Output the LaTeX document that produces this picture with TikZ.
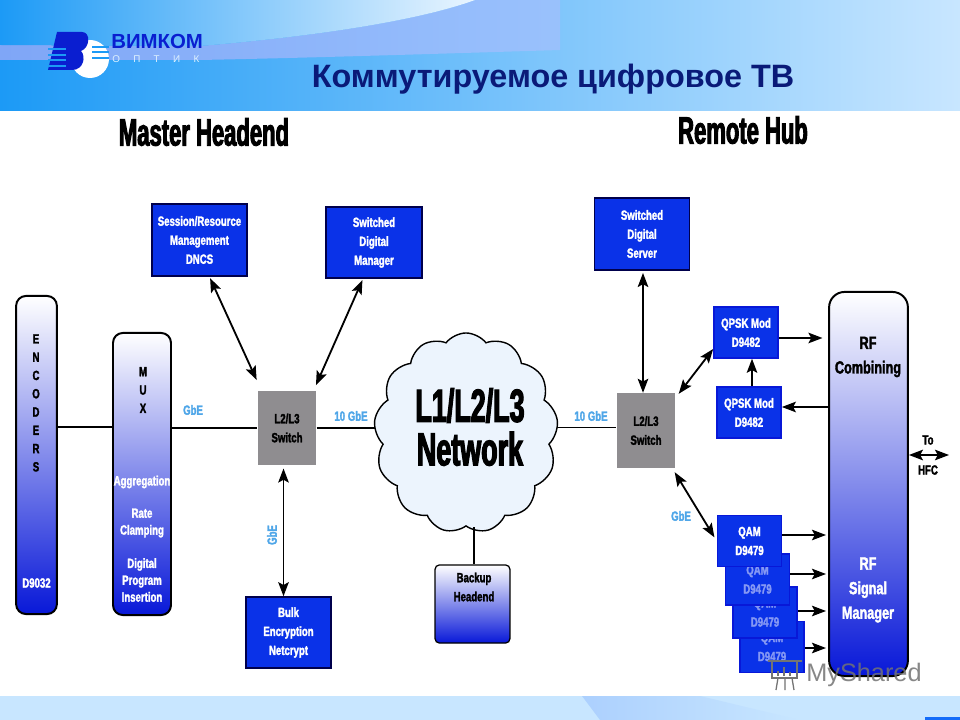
\documentclass[tikz,border=0pt]{standalone}
\usepackage{fontspec}
\setmainfont{Liberation Sans}
\newfontfamily\narrowfont[FakeStretch=0.72,BoldFeatures={FakeBold=2}]{Liberation Sans}
\newfontfamily\tallfont[FakeStretch=0.58,BoldFeatures={FakeBold=2.5}]{Liberation Sans}
\newcommand{\boxfont}{\narrowfont\bfseries\fontsize{9.5}{13.5}\selectfont}
\usepackage{tikz}
\usetikzlibrary{arrows.meta, shapes.symbols}
\definecolor{hdrdark}{HTML}{1C9AF6}
\definecolor{hdrmid}{HTML}{90BAFC}
\definecolor{hdrpale}{HTML}{C8E6FF}
\definecolor{hdrband}{HTML}{7FA6F7}
\definecolor{boxblue}{HTML}{0A32E8}
\definecolor{boxdeep}{HTML}{0818D8}
\definecolor{labelblue}{HTML}{4FA6E8}
\definecolor{titleblue}{HTML}{0A1A78}
\definecolor{logoblue}{HTML}{0A1ED0}
\definecolor{swgray}{HTML}{8F8D90}
\definecolor{cloudfill}{HTML}{ECF4FD}
\begin{document}
\begin{tikzpicture}[
        x=0.025cm,
        y=-0.025cm,
        >={Stealth[length=10pt,width=7.5pt,inset=2pt]},
        link/.style={line width=1.3pt},
        duplex/.style={line width=1.3pt,<->},
        oneway/.style={line width=1.3pt,->},
        bluebox/.style={
            draw=black!70!blue,
            line width=1.2pt,
            fill=boxblue,
            text=white,
            align=center,
            inner sep=0pt,
            font=\boxfont
        },
        modbox/.style={bluebox, draw=boxdeep, minimum width=1.6cm, minimum height=1.27cm},
        fadedbox/.style={modbox, text=white!50!boxblue},
        gradbar/.style={
            draw=black,
            line width=1.4pt,
            rounded corners=7pt,
            top color=white,
            bottom color=boxdeep,
            inner sep=0pt
        },
        switchbox/.style={
            fill=swgray,
            align=center,
            inner sep=0pt,
            minimum width=1.47cm,
            minimum height=1.87cm,
            font=\boxfont
        },
        speed/.style={text=labelblue, font=\boxfont, inner sep=0pt},
        heading/.style={font=\tallfont\bfseries\fontsize{27}{30}\selectfont, inner sep=0pt},
        barlabel/.style={text=white, align=center, font=\narrowfont\bfseries\fontsize{9.5}{12}\selectfont, inner sep=0pt},
        darklabel/.style={barlabel, text=black},
        rflabel/.style={align=center, font=\narrowfont\bfseries\fontsize{12.5}{17.5}\selectfont, inner sep=0pt}
    ]
        \useasboundingbox (0,0) rectangle (960,720);

        % Slide background
        \fill[white] (0,0) rectangle (960,720);
        \shade[left color=hdrdark, middle color=hdrmid, right color=hdrpale] (0,0) rectangle (960,111);
        \shade[left color=hdrband, right color=hdrmid!83!hdrpale] (0,45) -- (200,46) .. controls (320,36) and (420,20) .. (475,0) -- (560,0) -- (560,50) .. controls (400,55) and (300,58) .. (200,60) -- (0,60) -- cycle;
        \shade[left color=hdrdark, right color=white!60!hdrpale] (0,0) -- (475,0) .. controls (420,20) and (320,36) .. (200,46) -- (0,45) -- cycle;
        \fill[hdrpale] (0,696) rectangle (960,720);
        \shade[left color=hdrmid!50!hdrpale, right color=hdrpale] (582,696) -- (600,720) -- (800,720) -- (700,696) -- cycle;
        \fill[hdrdark!70!blue] (925,717) rectangle (960,720);

        % Logo
        \fill[white] (90,59) circle (19);
        \fill[logoblue] (57,32) -- (82,32) .. controls (91,32) and (90,48) .. (81,51) .. controls (86,56) and (84,70) .. (72,70) -- (48,70) -- cycle;
        \foreach \yy in {49,55,60,66} {
            \draw[hdrdark, line width=0.8pt] (48,\yy) -- (66,\yy);
        }
        \foreach \yy in {47,52,58} {
            \draw[hdrdark, line width=0.8pt] (92,\yy) -- (109,\yy);
        }
        \node[inner sep=0pt, anchor=west, text=logoblue, font=\bfseries\fontsize{14.5}{16}\selectfont] (logotext) at (111,41) {ВИМКОМ};
        \node[inner sep=0pt, anchor=west, text=white!85!hdrdark, font=\scriptsize] (logosub) at (112,59) {О\hspace{9.5pt}П\hspace{9.5pt}Т\hspace{9.5pt}И\hspace{9.5pt}К};
        \node[inner sep=0pt, text=titleblue, font=\bfseries\fontsize{23}{24}\selectfont] (title) at (553,79) {Коммутируемое цифровое ТВ};

        % Section headings
        \node[heading] (master) at (204,132) {Master Headend};
        \node[heading] (remote) at (743,130) {Remote Hub};

        % Master headend boxes
        \node[gradbar, minimum width=1.02cm, minimum height=7.95cm] (encoders) at (36.5,455) {};
        \node[darklabel, anchor=north, font=\narrowfont\bfseries\fontsize{9.5}{13}\selectfont] (encname) at (36,334) {E\\N\\C\\O\\D\\E\\R\\S};
        \node[barlabel] (encmodel) at (36.5,583) {D9032};
        \node[gradbar, minimum width=1.45cm, minimum height=7.05cm] (mux) at (142,474) {};
        \node[darklabel, font=\narrowfont\bfseries\fontsize{9.5}{13}\selectfont] (muxname) at (143,390) {M\\U\\X};
        \node[barlabel] (muxtext) at (142,482) {Aggregation};
        \node[barlabel] (muxrate) at (142,523) {Rate\\Clamping};
        \node[barlabel] (muxprog) at (142,580) {Digital\\Program\\Insertion};
        \node[switchbox] (sw1) at (287,428) {L2/L3\\Switch};
        \node[bluebox, minimum width=2.37cm, minimum height=1.8cm] (dncs) at (199.5,240) {Session/Resource\\Management\\DNCS};
        \node[bluebox, minimum width=2.4cm, minimum height=1.77cm] (sdm) at (374,242.5) {Switched\\Digital\\Manager};
        \node[bluebox, minimum width=2.12cm, minimum height=1.77cm] (bulk) at (288.5,632.5) {Bulk\\Encryption\\Netcrypt};

        % Core network
        \node[cloud, draw=black, line width=1pt, fill=cloudfill, cloud puffs=13, cloud puff arc=105, cloud ignores aspect,
            minimum width=4.6cm, minimum height=5cm, inner sep=0pt] (net) at (466,433) {};
        \node[inner sep=0pt, align=center, font=\tallfont\bfseries\fontsize{33}{31}\selectfont] (nettext) at (470,427) {L1/L2/L3\\Network};
        \node[gradbar, line width=0.9pt, rounded corners=3pt, minimum width=1.87cm, minimum height=1.95cm] (backup) at (472.5,604) {};
        \node[darklabel, font=\boxfont] (backuptext) at (474,587) {Backup\\Headend};

        % Remote hub boxes
        \node[switchbox] (sw2) at (646,430.5) {L2/L3\\Switch};
        \node[bluebox, minimum width=2.37cm, minimum height=1.8cm] (sds) at (642,234) {Switched\\Digital\\Server};
        \node[modbox] (qpsk1) at (746,332.5) {QPSK Mod\\D9482};
        \node[modbox] (qpsk2) at (749,412.5) {QPSK Mod\\D9482};
        \node[fadedbox] (qam4) at (772,647) {QAM\\D9479};
        \node[fadedbox] (qam3) at (765,612.5) {QAM\\D9479};
        \node[fadedbox] (qam2) at (757.5,579.5) {QAM\\D9479};
        \node[modbox] (qam1) at (749.5,541) {QAM\\D9479};
        \node[gradbar, rounded corners=11pt, minimum width=1.97cm, minimum height=9.6cm] (rf) at (868.5,484) {};
        \node[rflabel] (rfcomb) at (868,357) {RF\\Combining};
        \node[rflabel, text=white] (rfsig) at (868,590) {RF\\Signal\\Manager};

        % Line rate labels
        \node[speed] (gbe1) at (193,410) {GbE};
        \node[speed] (tengbe1) at (351,416) {10 GbE};
        \node[speed] (tengbe2) at (591,416) {10 GbE};
        \node[speed, rotate=90] (gbe2) at (272,535) {GbE};
        \node[speed] (gbe3) at (681,516) {GbE};

        % Links
        \draw[link] (encoders.east |- mux) ++(0,-47) coordinate (busa) -- (mux.west |- busa);
        \draw[link] (mux.east |- sw1) -- (sw1.west);
        \draw[link] (sw1.east) -- (net.west |- sw1);
        \draw[link] (net.east |- sw2) ++(0,-3) coordinate (busb) -- (sw2.west |- busb);
        \draw[link] (backup.north) ++(1.5,0) coordinate (backa) -- (backa |- net.south);

        % Arrows
        \draw[duplex, shorten <=1pt, shorten >=8pt] (dncs.south) ++(10,0) coordinate (dncsa) (sw1.north west) ++(4,0) coordinate (swtl) (dncsa) -- (swtl);
        \draw[duplex, shorten <=1pt, shorten >=4pt] (sdm.south) ++(-11,0) coordinate (sdma) (sw1.north east) ++(-3,0) coordinate (swtr) (sdma) -- (swtr);
        \draw[duplex, shorten <=2pt] (sw1.south) ++(-3.5,0) coordinate (swb) (swb) -- (swb |- bulk.north);
        \draw[duplex, shorten <=1.5pt] (sds.south) ++(1,0) coordinate (sdsa) (sdsa) -- (sdsa |- sw2.north);
        \draw[duplex] (sw2.north east) ++(3,1) coordinate (swq) (swq) -- (qpsk1.west |- 713,349);
        \draw[duplex, shorten >=3pt] (sw2.south east) ++(-1,4) coordinate (swa) (swa) -- (qam1.west);
        \draw[oneway, shorten >=4pt] (qpsk1.east) ++(0,5.5) coordinate (qa) -- (rf.west |- qa);
        \draw[oneway] (rf.west |- qpsk2) ++(0,-5.5) coordinate (qb) -- (qpsk2.east |- qb);
        \draw[oneway] (qpsk2.north) ++(3,0) coordinate (qc) -- (qc |- qpsk1.south);
        \draw[oneway, shorten >=1.5pt] (qam1.east) ++(0,-6) coordinate (qd) -- (rf.west |- qd);
        \draw[oneway, shorten >=1.5pt] (qam2.east) ++(0,-5.5) coordinate (qe) -- (rf.west |- qe);
        \draw[oneway, shorten >=1.5pt] (qam3.east) ++(0,-1.5) coordinate (qf) -- (rf.west |- qf);
        \draw[oneway, shorten >=1.5pt] (qam4.east) ++(0,1) coordinate (qg) -- (rf.west |- qg);

        % To HFC
        \coordinate (hfc) at (949,455);
        \draw[duplex] (rf.east |- hfc) -- (hfc);
        \node[darklabel] (toto) at (928,440) {To};
        \node[darklabel] (tohfc) at (928,470) {HFC};

        % Watermark
        \draw[black!55, line width=0.9pt] (768,661) -- (802,661);
        \draw[black!55, line width=0.9pt] (772,661) -- (772,678) -- (797,678) -- (797,661);
        \draw[black!55, line width=1.4pt] (778,676) -- (778,671) (784,676) -- (784,667) (790,676) -- (790,672);
        \draw[black!55, line width=0.9pt] (785,678) -- (785,690) (778,678) -- (776,690) (792,678) -- (794,690);
        \node[inner sep=0pt, anchor=west, text=black!55, opacity=0.85, font=\fontsize{18}{20}\selectfont] (myshared) at (806,675) {MyShared};
    \end{tikzpicture}
\end{document}
